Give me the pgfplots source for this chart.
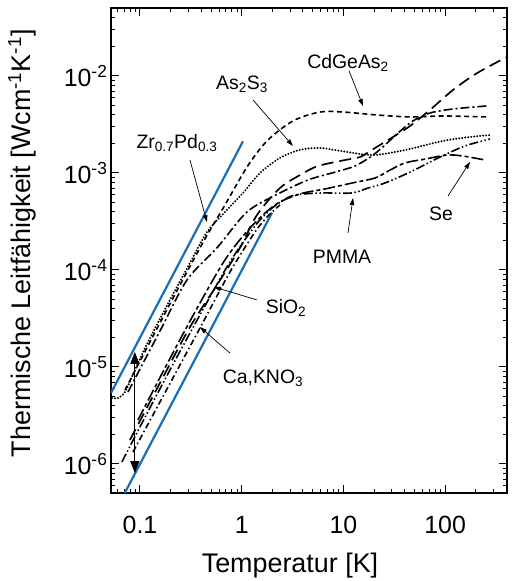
\documentclass[border=0pt]{standalone}
\usepackage{fontspec}
\setmainfont{Liberation Sans}
\usepackage{pgfplots}
\pgfplotsset{compat=1.18}
\usetikzlibrary{arrows.meta}
\definecolor{bl}{RGB}{25,110,185}
\begin{document}
\begin{tikzpicture}
\useasboundingbox (-111bp,-88bp) rectangle (402bp,493bp);
\begin{axis}[
  xmode=log, ymode=log,
  scale only axis, width=396bp, height=485bp,
  xmin=0.0519, xmax=406, ymin=5.02e-7, ymax=5.02e-2,
  xtick={0.1,1,10,100}, xticklabels={0.1,1,10,100},
  minor xtick={0.06,0.07,0.08,0.09,0.2,0.3,0.4,0.5,0.6,0.7,0.8,0.9,2,3,4,5,6,7,8,9,20,30,40,50,60,70,80,90,200,300,400},
  ytick={1e-6,1e-5,1e-4,1e-3,1e-2},
  yticklabels={10\textsuperscript{-6},10\textsuperscript{-5},10\textsuperscript{-4},10\textsuperscript{-3},10\textsuperscript{-2}},
  minor ytick={6e-7,7e-7,8e-7,9e-7,2e-6,3e-6,4e-6,5e-6,6e-6,7e-6,8e-6,9e-6,2e-5,3e-5,4e-5,5e-5,6e-5,7e-5,8e-5,9e-5,2e-4,3e-4,4e-4,5e-4,6e-4,7e-4,8e-4,9e-4,2e-3,3e-3,4e-3,5e-3,6e-3,7e-3,8e-3,9e-3,2e-2,3e-2,4e-2,5e-2},
  tick align=inside, major tick length=8bp, minor tick length=4bp,
  every tick/.style={black, line width=1bp},
  axis line style={line width=1.6bp},
  tick label style={font=\fontsize{25}{30}\selectfont},
  xticklabel style={yshift=-20bp},
  xlabel={Temperatur [K]},
  ylabel={Thermische Leitfähigkeit [Wcm\textsuperscript{-1}K\textsuperscript{-1}]},
  label style={font=\fontsize{27}{32}\selectfont},
  xlabel style={at={(axis description cs:0.452,0)}, anchor=base, yshift=-79bp},
  ylabel style={at={(axis description cs:-0.2247,0.515)}, anchor=center},
  every axis plot/.append style={no marks},
]
% blue T^2 reference lines
\addplot[bl, line width=2.2bp] coordinates {(0.0519,5.4e-6) (1.03,2.12e-3)};
\addplot[bl, line width=2.2bp] coordinates {(0.0709,5.02e-7) (1.99,3.9e-4)};

% CdGeAs2 (dashed)
\addplot[black, line width=1.6bp, smooth, dash pattern=on 5bp off 3.5bp] coordinates {
(0.0712,5.79e-6) (0.1254,1.81e-5) (0.2473,7.0e-5) (0.4357,2.09e-4) (0.6852,4.68e-4)
(1.127,1.15e-3) (1.774,2.14e-3) (3.194,3.44e-3) (5.887,4.25e-3) (9.91,4.25e-3)
(21.4,3.96e-3) (45.2,3.78e-3) (95.4,3.87e-3) (258,3.78e-3)};

% As2S3 / Zr0.7Pd0.3 (dotted)
\addplot[black, line width=2.2bp, smooth, line cap=round, dash pattern=on 0bp off 3bp] coordinates {
(0.0531,4.79e-6) (0.0608,4.79e-6) (0.0712,5.52e-6) (0.0893,9.31e-6) (0.1199,1.81e-5)
(0.1972,4.91e-5) (0.3101,1.18e-4) (0.4558,2.46e-4) (0.6852,3.96e-4) (1.030,6.22e-4)
(1.513,1.0e-3) (2.380,1.43e-3) (3.743,1.73e-3) (5.887,1.81e-3) (9.26,1.69e-3)
(14.56,1.57e-3) (20.4,1.53e-3) (28.7,1.61e-3) (45.2,1.77e-3) (95.4,2.14e-3)
(175.7,2.35e-3) (276,2.46e-3)};

% dash-dot curve (to ~5e-3)
\addplot[black, line width=1.6bp, smooth, dash pattern=on 9bp off 3bp on 2bp off 3bp] coordinates {
(0.0762,5.52e-6) (0.1573,2.35e-5) (0.2899,7.88e-5) (0.5716,1.69e-4) (1.127,3.96e-4)
(2.275,6.08e-4) (4.486,8.47e-4) (8.27,1.02e-3) (13.0,1.18e-3) (19.1,1.50e-3)
(25.6,1.94e-3) (34.4,2.58e-3) (48.3,3.44e-3) (71.0,4.15e-3) (119.6,4.57e-3) (258,4.91e-3)};

% SiO2 (long dashes)
\addplot[black, line width=1.7bp, smooth, dash pattern=on 12bp off 6bp] coordinates {
(0.0797,1.77e-6) (0.1573,6.84e-6) (0.3101,2.58e-5) (0.5716,7.0e-5) (0.962,1.69e-4)
(1.414,3.69e-4) (2.380,7.0e-4) (3.916,9.77e-4) (5.626,1.18e-3) (10.37,1.36e-3)
(14.56,1.46e-3) (19.1,1.73e-3) (30.7,2.35e-3) (45.2,3.05e-3) (71.0,4.46e-3)
(119.6,7.18e-3) (206,1.07e-2) (406,1.57e-2)};

% PMMA (dash-dot-dot)
\addplot[black, line width=1.6bp, smooth, dash pattern=on 9bp off 2.5bp on 1.5bp off 2.5bp on 1.5bp off 2.5bp] coordinates {
(0.0665,1.05e-6) (0.1,2.41e-6) (0.1972,9.31e-6) (0.389,3.44e-5) (0.767,1.21e-4)
(1.351,2.84e-4) (1.898,4.16e-4) (2.490,5.14e-4) (3.343,5.93e-4) (6.16,6.22e-4)
(12.15,6.22e-4) (17.5,7.0e-4) (25.6,7.88e-4) (45.2,1.02e-3) (89.1,1.46e-3)
(157,1.90e-3) (276,2.24e-3)};

% Ca,KNO3
\addplot[black, line width=1.6bp, smooth, dash pattern=on 6bp off 3bp on 1.5bp off 3bp] coordinates {
(0.0854,1.33e-6) (0.1573,4.36e-6) (0.389,2.52e-5) (0.767,9.53e-5) (1.351,2.46e-4)
(1.814,3.60e-4) (2.380,4.68e-4)};

% Se (long-short dash)
\addplot[black, line width=1.6bp, smooth, dash pattern=on 12bp off 3bp on 4bp off 3bp] coordinates {
(0.0956,2.84e-6) (0.1761,9.77e-6) (0.3474,3.69e-5) (0.6852,1.27e-4) (1.207,2.71e-4)
(2.125,4.68e-4) (3.743,6.08e-4) (6.59,6.84e-4) (12.15,7.88e-4) (20.45,8.88e-4)
(28.7,1.07e-3) (40.3,1.27e-3) (63.4,1.39e-3) (104.4,1.53e-3) (146.6,1.50e-3) (247,1.36e-3)};

% double arrow
\addplot[black, line width=0.8bp, {Triangle[width=9bp,length=12bp]}-{Triangle[width=9bp,length=12bp]}] coordinates {(0.089,1.43e-5) (0.089,8.07e-7)};

% annotation arrows
\draw[line width=0.7bp, -{Triangle[width=4.5bp,length=7bp]}] (axis cs:11.36,1.13e-2) -- (axis cs:15.58,4.91e-3);
\draw[line width=0.7bp, -{Triangle[width=4.5bp,length=7bp]}] (axis cs:1.291,5.66e-3) -- (axis cs:3.19,1.90e-3);
\draw[line width=0.7bp, -{Triangle[width=4.5bp,length=7bp]}] (axis cs:0.310,1.36e-3) -- (axis cs:0.456,3.12e-4);
\draw[line width=0.7bp, -{Triangle[width=4.5bp,length=7bp]}] (axis cs:1.414,4.91e-5) -- (axis cs:0.534,6.68e-5);
\draw[line width=0.7bp, -{Triangle[width=4.5bp,length=7bp]}] (axis cs:0.767,1.39e-5) -- (axis cs:0.389,2.58e-5);
\draw[line width=0.7bp, -{Triangle[width=4.5bp,length=7bp]}] (axis cs:11.1,2.41e-4) -- (axis cs:12.43,5.52e-4);
\draw[line width=0.7bp, -{Triangle[width=4.5bp,length=7bp]}] (axis cs:106.8,5.79e-4) -- (axis cs:175.7,1.30e-3);

% labels
\node[font=\fontsize{19.5}{23}\selectfont] at (axis cs:11.1,1.36e-2) {CdGeAs\textsubscript{2}};
\node[font=\fontsize{19.5}{23}\selectfont] at (axis cs:1.007,8.27e-3) {As\textsubscript{2}S\textsubscript{3}};
\node[font=\fontsize{19.5}{23}\selectfont] at (axis cs:0.231,2.04e-3) {Zr\textsubscript{0.7}Pd\textsubscript{0.3}};
\node[font=\fontsize{19.5}{23}\selectfont] at (axis cs:2.73,4.06e-5) {SiO\textsubscript{2}};
\node[font=\fontsize{19.5}{23}\selectfont] at (axis cs:1.62,7.7e-6) {Ca,KNO\textsubscript{3}};
\node[font=\fontsize{19.5}{23}\selectfont] at (axis cs:9.69,1.36e-4) {PMMA};
\node[font=\fontsize{19.5}{23}\selectfont] at (axis cs:91.1,3.78e-4) {Se};
\end{axis}
\end{tikzpicture}
\end{document}
